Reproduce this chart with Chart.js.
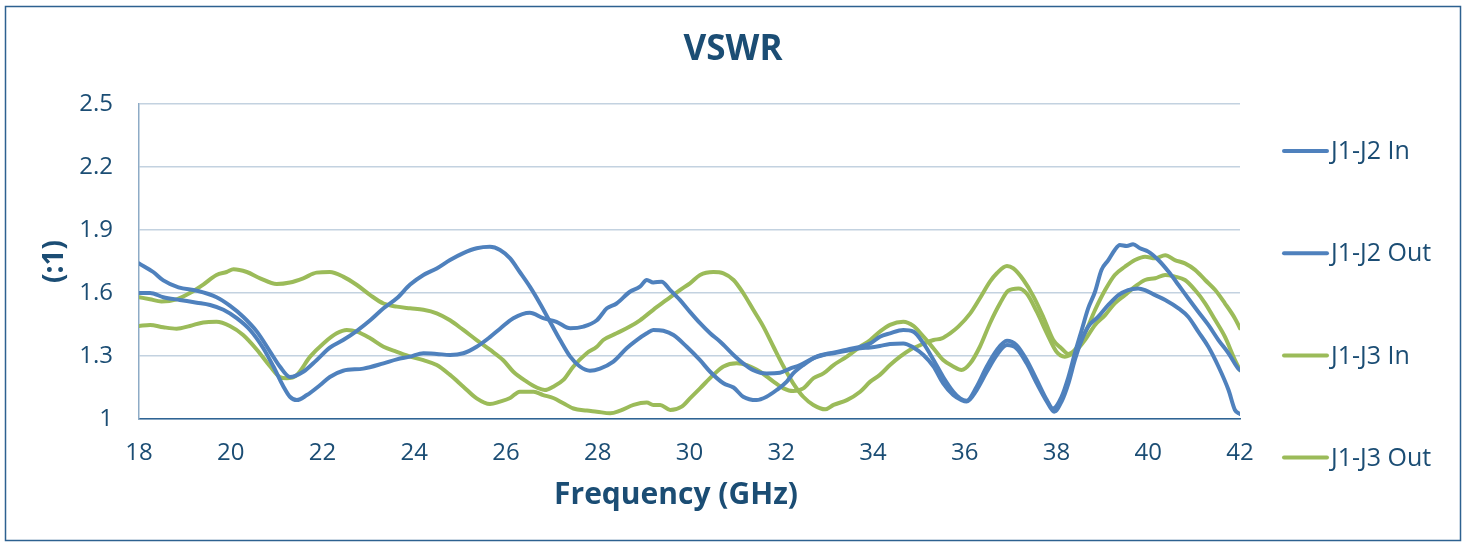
<!DOCTYPE html>
<html>
<head>
<meta charset="utf-8">
<title>VSWR</title>
<script src="https://cdn.jsdelivr.net/npm/chart.js@4"></script>
<style>
    html, body { margin: 0; padding: 0; background: #fff; }
    #wrap { width: 1466px; height: 543px; position: relative; }
</style>
</head>
<body>
<div id="wrap"><canvas id="vswrChart"></canvas></div>
<script>
// --- Axes ---
const xTicks = [18, 20, 22, 24, 26, 28, 30, 32, 34, 36, 38, 40, 42];
const yTicks = [1, 1.3, 1.6, 1.9, 2.2, 2.5];

// --- Series (frequency GHz / VSWR) ---
const freqJ1J2In = [18.0, 18.31, 18.53, 18.86, 19.26, 19.69, 19.98, 20.27, 20.57, 20.86, 21.07, 21.29, 21.58, 21.87, 22.16, 22.45, 22.75, 23.04, 23.33, 23.62, 23.91, 24.2, 24.49, 24.78, 25.07, 25.36, 25.65, 25.87, 26.09, 26.3, 26.52, 26.74, 26.96, 27.18, 27.4, 27.61, 27.83, 28.05, 28.34, 28.63, 28.85, 29.07, 29.21, 29.43, 29.65, 29.94, 30.23, 30.45, 30.74, 30.96, 31.17, 31.46, 31.68, 31.9, 32.12, 32.26, 32.48, 32.77, 33.06, 33.43, 33.94, 34.15, 34.37, 34.66, 34.88, 35.1, 35.32, 35.53, 35.75, 35.9, 36.04, 36.26, 36.48, 36.7, 36.92, 37.13, 37.35, 37.57, 37.79, 37.92, 38.11, 38.26, 38.4, 38.55, 38.69, 38.84, 38.98, 39.13, 39.27, 39.38, 39.53, 39.67, 39.82, 40.0, 40.22, 40.44, 40.66, 40.87, 41.09, 41.31, 41.53, 41.75, 41.96, 42.0];
const vswrJ1J2In = [1.741, 1.70, 1.66, 1.627, 1.611, 1.58, 1.54, 1.487, 1.416, 1.32, 1.25, 1.20, 1.225, 1.28, 1.34, 1.376, 1.42, 1.47, 1.527, 1.575, 1.64, 1.686, 1.717, 1.757, 1.79, 1.813, 1.82, 1.805, 1.765, 1.70, 1.63, 1.55, 1.463, 1.376, 1.297, 1.25, 1.23, 1.24, 1.273, 1.337, 1.376, 1.408, 1.424, 1.42, 1.40, 1.344, 1.28, 1.225, 1.17, 1.15, 1.106, 1.09, 1.106, 1.138, 1.178, 1.217, 1.257, 1.297, 1.313, 1.33, 1.36, 1.392, 1.408, 1.424, 1.416, 1.36, 1.281, 1.20, 1.13, 1.098, 1.087, 1.154, 1.25, 1.329, 1.373, 1.352, 1.281, 1.186, 1.09, 1.05, 1.106, 1.20, 1.313, 1.424, 1.527, 1.606, 1.71, 1.757, 1.805, 1.829, 1.824, 1.832, 1.813, 1.797, 1.757, 1.702, 1.638, 1.575, 1.511, 1.448, 1.376, 1.313, 1.241, 1.233];

const freqJ1J2Out = [18.0, 18.24, 18.53, 18.89, 19.26, 19.55, 19.84, 20.13, 20.42, 20.71, 20.93, 21.15, 21.29, 21.44, 21.66, 21.95, 22.16, 22.45, 22.89, 23.33, 23.62, 23.91, 24.2, 24.49, 24.78, 25.07, 25.36, 25.65, 25.87, 26.16, 26.52, 26.81, 27.1, 27.4, 27.69, 27.98, 28.2, 28.41, 28.7, 28.92, 29.07, 29.21, 29.39, 29.58, 29.79, 30.01, 30.23, 30.45, 30.67, 30.96, 31.17, 31.39, 31.68, 31.97, 32.19, 32.41, 32.7, 32.92, 33.14, 33.43, 33.72, 33.94, 34.15, 34.37, 34.66, 34.88, 35.1, 35.32, 35.53, 35.75, 35.93, 36.04, 36.26, 36.48, 36.7, 36.92, 37.13, 37.35, 37.57, 37.79, 37.95, 38.11, 38.26, 38.4, 38.55, 38.69, 38.91, 39.13, 39.35, 39.56, 39.78, 39.93, 40.15, 40.37, 40.66, 40.87, 41.09, 41.31, 41.53, 41.75, 41.89, 42.0];
const vswrJ1J2Out = [1.60, 1.60, 1.58, 1.567, 1.554, 1.543, 1.52, 1.48, 1.424, 1.337, 1.25, 1.154, 1.106, 1.09, 1.114, 1.162, 1.20, 1.23, 1.24, 1.265, 1.284, 1.297, 1.313, 1.31, 1.305, 1.313, 1.344, 1.39, 1.43, 1.48, 1.506, 1.48, 1.463, 1.432, 1.44, 1.47, 1.527, 1.55, 1.606, 1.63, 1.662, 1.65, 1.654, 1.614, 1.567, 1.51, 1.456, 1.408, 1.368, 1.305, 1.265, 1.233, 1.217, 1.22, 1.24, 1.257, 1.29, 1.305, 1.313, 1.325, 1.337, 1.341, 1.348, 1.357, 1.36, 1.341, 1.305, 1.25, 1.17, 1.114, 1.09, 1.083, 1.138, 1.225, 1.305, 1.352, 1.336, 1.265, 1.17, 1.083, 1.035, 1.083, 1.17, 1.281, 1.376, 1.44, 1.487, 1.543, 1.59, 1.614, 1.622, 1.614, 1.59, 1.567, 1.527, 1.487, 1.416, 1.344, 1.25, 1.138, 1.043, 1.024];

const freqJ1J3In = [18.0, 18.24, 18.49, 18.82, 19.11, 19.4, 19.69, 19.91, 20.06, 20.35, 20.64, 21.0, 21.29, 21.58, 21.87, 22.16, 22.45, 22.75, 23.04, 23.33, 23.62, 23.91, 24.2, 24.49, 24.78, 25.07, 25.36, 25.65, 25.94, 26.16, 26.45, 26.67, 26.85, 27.03, 27.25, 27.47, 27.76, 27.98, 28.12, 28.41, 28.7, 28.92, 29.21, 29.5, 29.79, 30.01, 30.23, 30.52, 30.74, 30.96, 31.17, 31.39, 31.61, 31.83, 32.05, 32.26, 32.48, 32.7, 32.96, 33.14, 33.43, 33.72, 33.94, 34.15, 34.37, 34.59, 34.81, 35.03, 35.32, 35.5, 35.68, 35.86, 36.12, 36.33, 36.55, 36.7, 36.92, 37.06, 37.28, 37.5, 37.71, 37.93, 38.11, 38.26, 38.4, 38.62, 38.84, 39.06, 39.27, 39.49, 39.71, 39.93, 40.15, 40.37, 40.58, 40.8, 41.02, 41.24, 41.46, 41.67, 41.89, 42.0];
const vswrJ1J3In = [1.58, 1.57, 1.56, 1.57, 1.60, 1.64, 1.686, 1.70, 1.713, 1.70, 1.67, 1.643, 1.65, 1.67, 1.697, 1.70, 1.678, 1.638, 1.59, 1.55, 1.535, 1.527, 1.52, 1.503, 1.47, 1.424, 1.376, 1.33, 1.28, 1.225, 1.178, 1.15, 1.138, 1.154, 1.186, 1.25, 1.313, 1.344, 1.376, 1.408, 1.44, 1.47, 1.52, 1.567, 1.614, 1.646, 1.686, 1.70, 1.694, 1.662, 1.60, 1.52, 1.44, 1.344, 1.25, 1.17, 1.106, 1.067, 1.046, 1.067, 1.09, 1.13, 1.178, 1.21, 1.257, 1.297, 1.33, 1.352, 1.376, 1.384, 1.408, 1.44, 1.503, 1.575, 1.654, 1.694, 1.729, 1.717, 1.662, 1.583, 1.487, 1.376, 1.336, 1.31, 1.329, 1.408, 1.519, 1.614, 1.686, 1.725, 1.757, 1.773, 1.765, 1.78, 1.757, 1.741, 1.71, 1.662, 1.614, 1.551, 1.479, 1.432];

const freqJ1J3Out = [18.0, 18.24, 18.53, 18.82, 19.11, 19.4, 19.69, 19.98, 20.27, 20.57, 20.86, 21.07, 21.22, 21.44, 21.73, 22.02, 22.31, 22.53, 22.75, 23.04, 23.33, 23.62, 23.91, 24.2, 24.49, 24.78, 25.07, 25.36, 25.65, 25.87, 26.09, 26.3, 26.6, 26.81, 27.03, 27.25, 27.47, 27.76, 27.98, 28.27, 28.49, 28.78, 29.07, 29.21, 29.36, 29.58, 29.83, 30.01, 30.23, 30.52, 30.74, 31.03, 31.25, 31.54, 31.83, 32.05, 32.26, 32.48, 32.7, 32.92, 33.14, 33.43, 33.72, 33.94, 34.15, 34.37, 34.66, 34.88, 35.1, 35.32, 35.53, 35.75, 35.93, 36.12, 36.33, 36.55, 36.77, 36.95, 37.17, 37.35, 37.57, 37.79, 38.0, 38.18, 38.4, 38.62, 38.84, 39.06, 39.27, 39.49, 39.71, 39.93, 40.15, 40.37, 40.58, 40.8, 41.02, 41.24, 41.46, 41.67, 41.89, 42.0];
const vswrJ1J3Out = [1.443, 1.448, 1.437, 1.43, 1.443, 1.46, 1.463, 1.443, 1.40, 1.33, 1.25, 1.20, 1.194, 1.21, 1.297, 1.36, 1.408, 1.424, 1.416, 1.384, 1.344, 1.32, 1.297, 1.28, 1.257, 1.21, 1.154, 1.098, 1.071, 1.083, 1.10, 1.13, 1.13, 1.114, 1.10, 1.075, 1.05, 1.04, 1.035, 1.027, 1.04, 1.067, 1.078, 1.067, 1.067, 1.043, 1.059, 1.098, 1.146, 1.21, 1.25, 1.265, 1.257, 1.225, 1.178, 1.146, 1.133, 1.146, 1.194, 1.217, 1.257, 1.297, 1.344, 1.376, 1.416, 1.448, 1.463, 1.443, 1.392, 1.336, 1.281, 1.25, 1.233, 1.265, 1.344, 1.456, 1.551, 1.611, 1.622, 1.598, 1.511, 1.408, 1.32, 1.297, 1.32, 1.376, 1.448, 1.495, 1.551, 1.59, 1.63, 1.662, 1.67, 1.686, 1.678, 1.662, 1.614, 1.551, 1.471, 1.392, 1.281, 1.233];

const BLEU = '#4f81bd';
const VERT = '#9bbb59';
const TEXTE = '#1b4d74';
const POLICE = "'Open Sans', 'DejaVu Sans', sans-serif";

function toPoints(freqs, vals) {
    return freqs.map((f, i) => ({ x: f, y: vals[i] }));
}

function serie(label, freqs, vals, color) {
    return {
        label,
        data: toPoints(freqs, vals),
        borderColor: color,
        backgroundColor: color,
        borderWidth: 4,
        borderCapStyle: 'round',
        borderJoinStyle: 'round',
        pointRadius: 0,
        cubicInterpolationMode: 'monotone',
        fill: false
    };
}

// --- cadre, titres et légende (centrés comme l'original) ---
const cadrePlugin = {
    id: 'cadre',
    afterDraw(chart) {
        const ctx = chart.ctx;
        ctx.save();
        ctx.strokeStyle = '#2d6190';
        ctx.lineWidth = 1.5;
        ctx.strokeRect(5.5, 6.5, 1455, 534);

        ctx.fillStyle = TEXTE;
        ctx.textAlign = 'center';
        ctx.textBaseline = 'middle';
        ctx.font = `bold 35px ${POLICE}`;
        ctx.fillText('VSWR', 733, 50);
        ctx.font = `bold 30px ${POLICE}`;
        ctx.fillText('Frequency (GHz)', 676, 495);

        ctx.font = `25px ${POLICE}`;
        ctx.textAlign = 'left';
        chart.data.datasets.forEach((ds, i) => {
            const y = 151 + i * 102.2;
            ctx.strokeStyle = ds.borderColor;
            ctx.lineWidth = 4;
            ctx.lineCap = 'round';
            ctx.beginPath();
            ctx.moveTo(1284, y);
            ctx.lineTo(1327, y);
            ctx.stroke();
            ctx.fillStyle = TEXTE;
            ctx.fillText(ds.label, 1331, y + 1);
        });
        ctx.restore();
    }
};

new Chart(document.getElementById('vswrChart'), {
    type: 'line',
    data: {
        datasets: [
            serie('J1-J2 In', freqJ1J2In, vswrJ1J2In, BLEU),
            serie('J1-J2 Out', freqJ1J2Out, vswrJ1J2Out, BLEU),
            serie('J1-J3 In', freqJ1J3In, vswrJ1J3In, VERT),
            serie('J1-J3 Out', freqJ1J3Out, vswrJ1J3Out, VERT)
        ]
    },
    options: {
        responsive: true,
        maintainAspectRatio: false,
        animation: false,
        layout: { padding: { left: 0, top: 104, right: 226, bottom: 0 } },
        plugins: {
            legend: { display: false },
            tooltip: { enabled: false },
            title: { display: false }
        },
        scales: {
            x: {
                type: 'linear',
                min: 18,
                max: 42,
                afterBuildTicks: scale => { scale.ticks = xTicks.map(v => ({ value: v })); },
                afterFit: scale => { scale.height = 124; },
                grid: { display: false, drawTicks: false },
                border: { display: true, color: '#2f6494', width: 1.5 },
                ticks: {
                    color: TEXTE,
                    padding: 20,
                    maxRotation: 0,
                    font: { family: POLICE, size: 24 },
                    callback: v => String(v)
                },
                title: { display: false }
            },
            y: {
                min: 1,
                max: 2.5,
                afterBuildTicks: scale => { scale.ticks = yTicks.map(v => ({ value: v })); },
                afterFit: scale => { scale.width = 139; },
                grid: { color: '#c3d2e0', lineWidth: 1.5, drawTicks: false },
                border: { display: true, color: '#8eabc6', width: 1.5 },
                ticks: {
                    color: TEXTE,
                    padding: 26,
                    font: { family: POLICE, size: 24 },
                    callback: v => String(v)
                },
                title: {
                    display: true,
                    text: '(:1)',
                    color: TEXTE,
                    font: { family: POLICE, size: 28, weight: 'bold', lineHeight: 1.2 },
                    padding: { top: 38, bottom: 0 }
                }
            }
        }
    },
    plugins: [cadrePlugin]
});
</script>
</body>
</html>
